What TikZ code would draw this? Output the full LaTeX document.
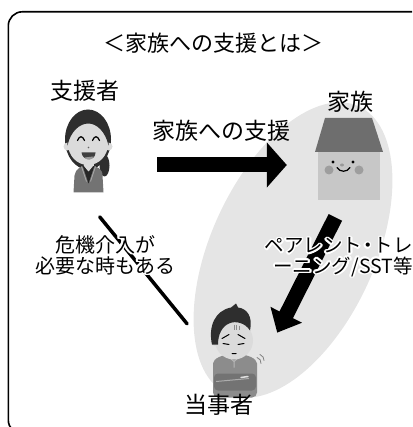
\documentclass[tikz,border=0pt]{standalone}
\usepackage{fontspec}
\setmainfont{Noto Sans CJK JP}
\usepackage{contour}
\contourlength{1.6pt}
\usetikzlibrary{arrows.meta}

\begin{document}
\begin{tikzpicture}[x=1pt,y=-1pt,
  lbl/.style={inner sep=0pt,font=\fontsize{23}{27}\selectfont},
  note/.style={inner sep=0pt,align=center,font=\fontsize{20}{21}\selectfont},
  figbox/.style 2 args={inner sep=0pt,minimum width=#1,minimum height=#2},
  big/.style={line width=15pt,-{Triangle[length=20pt,width=#1]}},
  crisis/.style={line width=3.5pt,line cap=round},
  hair/.style={fill=black!82},
  skin/.style={fill=black!14},
  jacket/.style={fill=black!55},
  sweater/.style={fill=black!45},
  roof/.style={fill=black!57},
  wall/.style={fill=black!22}]
\useasboundingbox (0,0) rectangle (412,427);
\clip (0,0) rectangle (412,427);

\fill[black!10,rotate around={65.4:(293,250)}] (293,250) ellipse [x radius=158,y radius=82];
\draw[line width=1.6pt,rounded corners=14pt] (8.3,11.8) rectangle (450,434);

\node[figbox={55}{87}] (supporter) at (87.5,151.5) {};
\node[figbox={74}{87}] (house) at (349,158.5) {};
\node[figbox={60}{95}] (tojisha) at (235,350.5) {};

% supporter
\begin{scope}[shift={(supporter.center)}]
  \fill[hair] (0.5,-12) ellipse [x radius=23,y radius=30];
  \fill[hair] (17,14) ellipse [x radius=5,y radius=11];
  \fill[jacket] (-14,41) -- (-13,24) .. controls (-12,17) and (-6,14) .. (1,14)
    .. controls (9,14) and (15,17) .. (15,24) -- (16,41) -- cycle;
  \fill[black!85] (-5,14) -- (7,14) -- (1,32) -- cycle;
  \draw[black!35,line width=0.8pt] (-6,15) -- (-1,30) (8,15) -- (3,30);
  \fill[skin] (-4,8) rectangle (6,15);
  \fill[skin] (-4,14) -- (6,14) -- (1,20) -- cycle;
  \fill[skin] (-20,-5) circle [radius=4] (21,-5) circle [radius=4];
  \fill[skin] (0.5,-7.5) ellipse [x radius=20,y radius=21];
  \fill[hair] (-20,-6) .. controls (-22,-42) and (23,-42) .. (21,-6)
    .. controls (18,-20) and (9,-28) .. (1,-28)
    .. controls (-8,-28) and (-17,-20) .. (-20,-6) -- cycle;
  \draw[line width=1.2pt,line cap=round] (-10,-11) .. controls (-8,-16) and (-5,-16) .. (-3,-11)
    (5,-11) .. controls (7,-16) and (10,-16) .. (12,-11);
  \fill[black!60] (1,-4) circle [radius=0.9];
  \fill[black!75] (-6,1) .. controls (-5,10) and (8,10) .. (8,1) -- cycle;
  \fill[black!40] (-3,6) .. controls (-1,9) and (5,9) .. (6,5) -- cycle;
\end{scope}

% family
\begin{scope}[shift={(house.center)}]
  \fill[roof] (-24,-40.5) -- (23,-40.5) -- (34,-6.5) -- (-34,-6.5) -- cycle;
  \fill[wall] (-31,-6.5) rectangle (31,41.5);
  \fill[black!38] (-20,11.5) circle [radius=4.5] (10,11.5) circle [radius=4.5];
  \fill (-16,3.5) circle [radius=1.7] (4,3.5) circle [radius=1.7];
  \fill[black!40] (-7,6.5) ellipse [x radius=2,y radius=1.5];
  \draw[line width=1.2pt,line cap=round] (-12,9) .. controls (-9,14) and (-2,14) .. (1,9);
\end{scope}

% person concerned
\begin{scope}[shift={(tojisha.center)}]
  \fill[sweater,rounded corners=5pt] (-22,47) -- (-22,18) .. controls (-22,8) and (-12,4) .. (0,4)
    .. controls (12,4) and (22,8) .. (22,18) -- (22,47) -- cycle;
  \draw[black!28,line width=1pt] (-8,5) -- (-1,11) -- (6,5) (-1,11) -- (-1,17);
  \fill[black!55,rounded corners=4pt] (-21,23) rectangle (21,40);
  \draw[black!32,line width=1pt] (-19,31) -- (14,28);
  \draw[black!12,line width=1.5pt,line cap=round] (6,27) -- (13,26);
  \fill[skin] (-20,-9) circle [radius=4.5];
  \fill[skin] (-1,-10) ellipse [x radius=19,y radius=19];
  \fill[hair] (-23,-6) .. controls (-27,-24) and (-20,-40) .. (-4,-43) -- (1,-47) -- (3,-43)
    .. controls (12,-42) and (18,-34) .. (15,-20)
    .. controls (10,-28) and (0,-30) .. (-6,-27)
    .. controls (-13,-24) and (-17,-16) .. (-17,-6) -- cycle;
  \draw[black!45,line width=0.8pt] (-1,-26) -- (-1,-21) (1.5,-26) -- (1.5,-21) (4,-25) -- (4,-21);
  \draw[line width=1pt,line cap=round] (-13,-12) -- (-6,-16) (3,-16) -- (10,-12)
    (-12,-7) -- (-6,-6) (3,-6) -- (9,-7) (-3,3) -- (1,3);
  \draw[black!50,line width=0.8pt,line cap=round] (22,7) .. controls (25,8) and (26,10) .. (26,13)
    (25,4) .. controls (28,5) and (29,8) .. (29,10);
\end{scope}

\draw[crisis,shorten <=28pt,shorten >=28pt] ([xshift=-5.5pt]supporter.south) -- ([yshift=5pt]tojisha.west);
\draw[big=44pt,shorten <=42pt,shorten >=25pt] ([yshift=-13.5pt]supporter.east) -- ([yshift=-6.5pt]house.west);
\draw[big=34pt,shorten <=17pt,shorten >=20pt] ([xshift=-6pt]house.south) -- ([xshift=3pt]tojisha.east);

\node[lbl,font=\fontsize{22}{26}\selectfont] (title) at (213,43) {＜家族への支援とは＞};
\node[lbl] (supporterlbl) at (85,91) {支援者};
\node[lbl] (familylbl) at (350,102) {家族};
\node[lbl] (supportlbl) at (221,131) {家族への支援};
\node[lbl] (tojishalbl) at (219,405) {当事者};
\node[note] (crisislbl) at (105,256) {\contour{white}{危機介入が}\\\contour{white}{必要な時もある}};
\node[note,align=right,anchor=east,font=\fontsize{19.5}{20.5}\selectfont] (traininglbl) at (413,258)
  {\contour{white}{ペアレント\kern-4pt・\kern-4pt トレ}\\\contour{white}{ーニング/SST等}};
\end{tikzpicture}
\end{document}
